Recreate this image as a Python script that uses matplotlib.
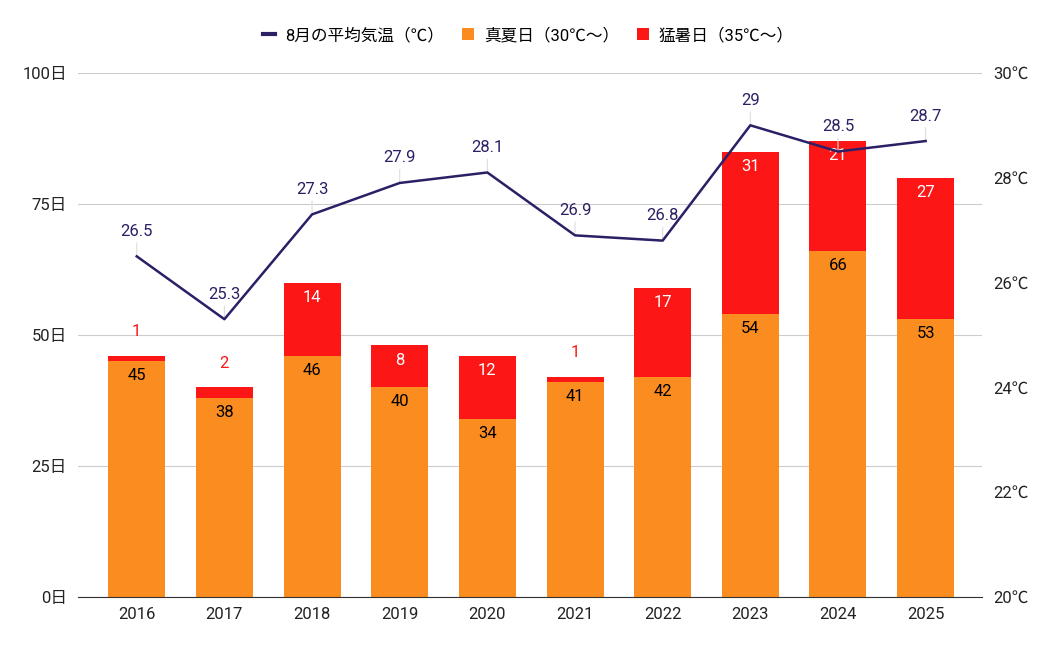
import matplotlib
matplotlib.use("Agg")
import matplotlib.pyplot as plt
from matplotlib.lines import Line2D
from matplotlib.patches import Patch
import numpy as np

plt.rcParams["font.family"] = ["Roboto", "Noto Sans CJK JP", "DejaVu Sans"]

years = ["2016", "2017", "2018", "2019", "2020", "2021", "2022", "2023", "2024", "2025"]
manatsubi = [45, 38, 46, 40, 34, 41, 42, 54, 66, 53]
moshobi = [1, 2, 14, 8, 12, 1, 17, 31, 21, 27]
avg_temp = [26.5, 25.3, 27.3, 27.9, 28.1, 26.9, 26.8, 29, 28.5, 28.7]

left_ticks = [0, 25, 50, 75, 100]
right_ticks = [20, 22, 24, 26, 28, 30]

ORANGE = "#fb8c1f"
RED = "#fc1616"
NAVY = "#2b1f66"
FS = 12

fig = plt.figure(figsize=(10.57, 6.51), dpi=100)
ax = fig.add_axes([0.0738, 0.083, 0.855, 0.805])
ax2 = ax.twinx()

x = np.arange(len(years))
w = 0.65
ax.bar(x, manatsubi, width=w, color=ORANGE, zorder=2)
ax.bar(x, moshobi, width=w, bottom=manatsubi, color=RED, zorder=2)

for i in range(len(years)):
    ax.annotate(str(manatsubi[i]), (x[i], manatsubi[i]), xytext=(0, -10.5),
                textcoords="offset points", ha="center", va="center",
                fontsize=FS, color="black", zorder=4)
    top = manatsubi[i] + moshobi[i]
    if moshobi[i] >= 5:
        ax.annotate(str(moshobi[i]), (x[i], top), xytext=(0, -10.5),
                    textcoords="offset points", ha="center", va="center",
                    fontsize=FS, color="white", zorder=6)
    else:
        ax.annotate(str(moshobi[i]), (x[i], top), xytext=(0, 17.5),
                    textcoords="offset points", ha="center", va="center",
                    fontsize=FS, color=RED, zorder=4)

ax.set_ylim(0, 100)
ax.set_xlim(-0.67, 9.64)
ax.set_yticks(left_ticks)
ax.set_yticklabels([f"{v}日" for v in left_ticks])
ax.set_xticks(x)
ax.set_xticklabels(years)
ax.grid(axis="y", color="#cccccc", lw=0.8, zorder=0)
ax.set_axisbelow(True)
for s in ["top", "left", "right"]:
    ax.spines[s].set_visible(False)
ax.spines["bottom"].set_color("#333333")
ax.spines["bottom"].set_zorder(3)
ax.tick_params(axis="both", length=0, labelsize=FS, colors="#222222")
ax.tick_params(axis="y", pad=8)
ax.tick_params(axis="x", pad=7)

ax2.plot(x, avg_temp, color=NAVY, lw=1.8, zorder=5)
for i, t in enumerate(avg_temp):
    ax2.annotate(f"{t:g}", (x[i], t), xytext=(0, 18), textcoords="offset points",
                 ha="center", va="center", fontsize=FS, color=NAVY,
                 arrowprops=dict(arrowstyle="-", color="#dddddd", lw=0.8,
                                 shrinkA=1, shrinkB=0))
ax2.set_ylim(20, 30)
ax2.set_yticks(right_ticks)
ax2.set_yticklabels([f"{v}℃" for v in right_ticks])
for s in ["top", "left", "right", "bottom"]:
    ax2.spines[s].set_visible(False)
ax2.tick_params(axis="y", length=0, labelsize=FS, colors="#222222", pad=8)
ax2.set_zorder(ax.get_zorder() + 1)
ax2.patch.set_visible(False)

handles = [
    Line2D([0], [0], color=NAVY, lw=3),
    Patch(facecolor=ORANGE),
    Patch(facecolor=RED),
]
labels = ["8月の平均気温（℃）", "真夏日（30℃〜）", "猛暑日（35℃〜）"]
fig.legend(handles, labels, loc="center", bbox_to_anchor=(0.5, 0.946), ncol=3,
           frameon=False, fontsize=FS, handlelength=0.7, handleheight=0.7,
           handletextpad=0.6, columnspacing=1.1)

fig.savefig("out.png", dpi=100)
